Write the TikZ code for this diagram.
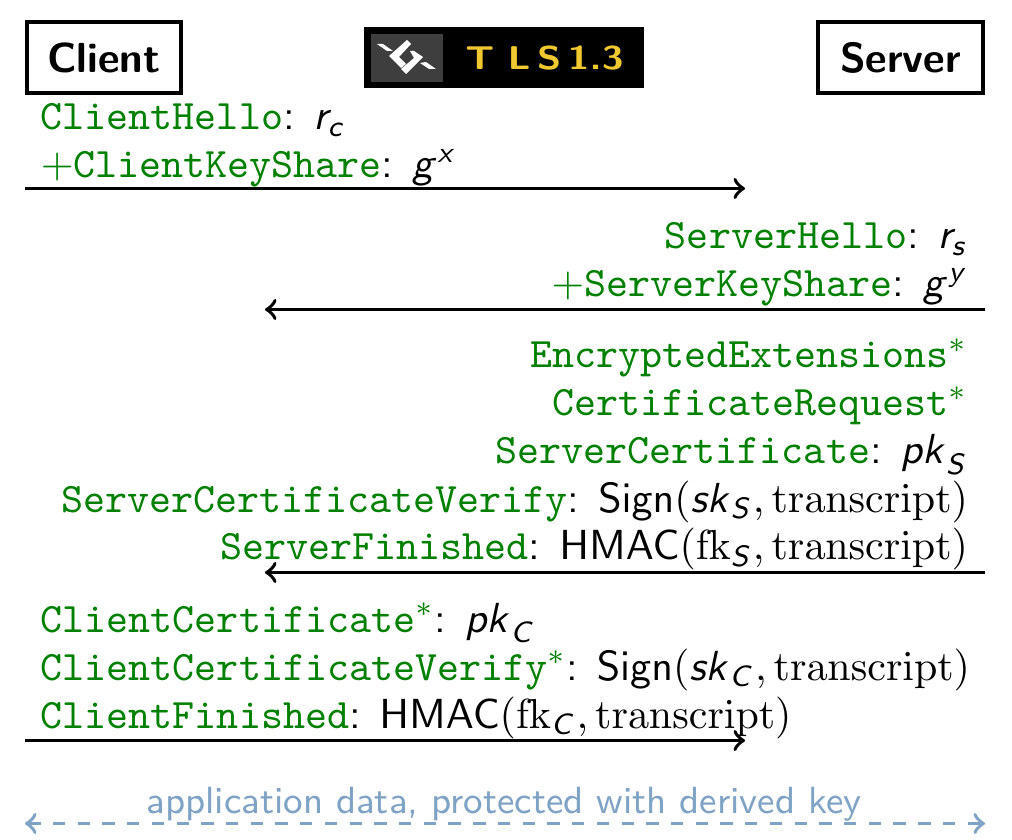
\RequirePackage{fix-cm}
\documentclass[tikz,border=0pt]{standalone}
\usepackage{amsmath}
\DeclareMathAlphabet{\mathsfit}{OT1}{cmss}{m}{sl}
\newcommand{\msg}[1]{\textcolor{msggreen}{\fontsize{10.18}{12}\selectfont\texttt{#1}}}
\newcommand{\tr}{\mathrm{transcript}}
\definecolor{msggreen}{rgb}{0,0.5,0}
\definecolor{databw}{RGB}{127,163,196}
\definecolor{logoyellow}{RGB}{240,200,48}
\definecolor{logogrey}{RGB}{62,62,62}
\tikzset{
  party/.style={draw, line width=1pt, inner sep=0pt, font=\sffamily\bfseries\fontsize{10.2}{12}\selectfont},
  msgleft/.style={anchor=base west, inner sep=0pt, font=\fontsize{10.2}{12}\selectfont\sffamily},
  msgright/.style={anchor=base east, inner sep=0pt, font=\fontsize{10.2}{12}\selectfont\sffamily},
  flow/.style={->, line width=0.9pt},
  dataflow/.style={<->, line width=0.9pt, dashed, databw}
}
\begin{document}
\begin{tikzpicture}[x=0.2427pt, y=-0.2427pt]
\useasboundingbox (0,0) rectangle (1012,840);

% parties
\node [party, minimum width=37.4pt, minimum height=17.2pt] (client) at (104,57.5) {Client};
\node [party, minimum width=40pt, minimum height=17.2pt] (server) at (900.5,57.5) {Server};

% logo
\fill [black] (364,27) rectangle (644,88);
\fill [logogrey] (371,34) rectangle (443,82);
\fill [white] (377,44) -- (383,44) -- (393,51) -- (387,51) -- cycle;
\fill [white] (407,40) -- (411,44) -- (399,57) -- (406,64) -- (401,68) -- (389,56) -- cycle;
\fill [white] (410,51) -- (414,51) -- (423,57) -- (406,74) -- (401,69) -- (414,58) -- cycle;
\fill [white] (420,63) -- (426,62) -- (436,69) -- (429,69) -- cycle;
\node [text=logoyellow, font=\sffamily\bfseries\fontsize{8}{9}\selectfont, xscale=1.2, inner sep=0pt] (logotext) at (544.5,58) {T\,\,L\,S\,1.3};

% client flight
\foreach \y/\txt in {130/{\msg{ClientHello}: $\mathsfit{r}_{\mathsfit{c}}$},
                     178/{\msg{{$+$}ClientKeyShare}: $\mathsfit{g}^{\mathsfit{x}}$},
                     632/{\msg{ClientCertificate}$^{\textcolor{msggreen}{*}}$: $\mathsfit{pk}_{\mathsfit{C}}$},
                     680/{\msg{ClientCertificateVerify}$^{\textcolor{msggreen}{*}}$: $\mathsf{Sign}(\mathsfit{sk}_{\mathsfit{C}}, \tr)$},
                     728/{\msg{ClientFinished}: $\mathsf{HMAC}(\mathrm{fk}_{\mathsfit{C}}, \tr)$}}
  \node [msgleft] (left-\y) at (40,\y) {\txt};

% server flight
\foreach \y/\txt in {249/{\msg{ServerHello}: $\mathsfit{r}_{\mathsfit{s}}$},
                     297/{\msg{{$+$}ServerKeyShare}: $\mathsfit{g}^{\mathsfit{y}}$},
                     368/{\msg{EncryptedExtensions}$^{\textcolor{msggreen}{*}}$},
                     416/{\msg{CertificateRequest}$^{\textcolor{msggreen}{*}}$},
                     464/{\msg{ServerCertificate}: $\mathsfit{pk}_{\mathsfit{S}}$},
                     512/{\msg{ServerCertificateVerify}: $\mathsf{Sign}(\mathsfit{sk}_{\mathsfit{S}}, \tr)$},
                     560/{\msg{ServerFinished}: $\mathsf{HMAC}(\mathrm{fk}_{\mathsfit{S}}, \tr)$}}
  \node [msgright] (right-\y) at (969,\y) {\txt};

% arrows
\foreach \n/\y in {hello/188.5,finished/740.5} {
  \coordinate (c-\n) at (25,\y);
  \coordinate (s-\n) at (745,\y);
  \draw [flow] (c-\n) -- (s-\n);
}
\foreach \n/\y in {share/309.5,flight/572.5} {
  \coordinate (c-\n) at (265,\y);
  \coordinate (s-\n) at (985,\y);
  \draw [flow] (s-\n) -- (c-\n);
}

\coordinate (c-data) at (25,823.5);
\coordinate (s-data) at (985,823.5);
\draw [dataflow] (c-data) -- (s-data);
\node [text=databw, font=\sffamily\fontsize{9.2}{11}\selectfont, inner sep=0pt, anchor=base] (datalabel) at (504,813) {application data, protected with derived key};

\end{tikzpicture}
\end{document}
